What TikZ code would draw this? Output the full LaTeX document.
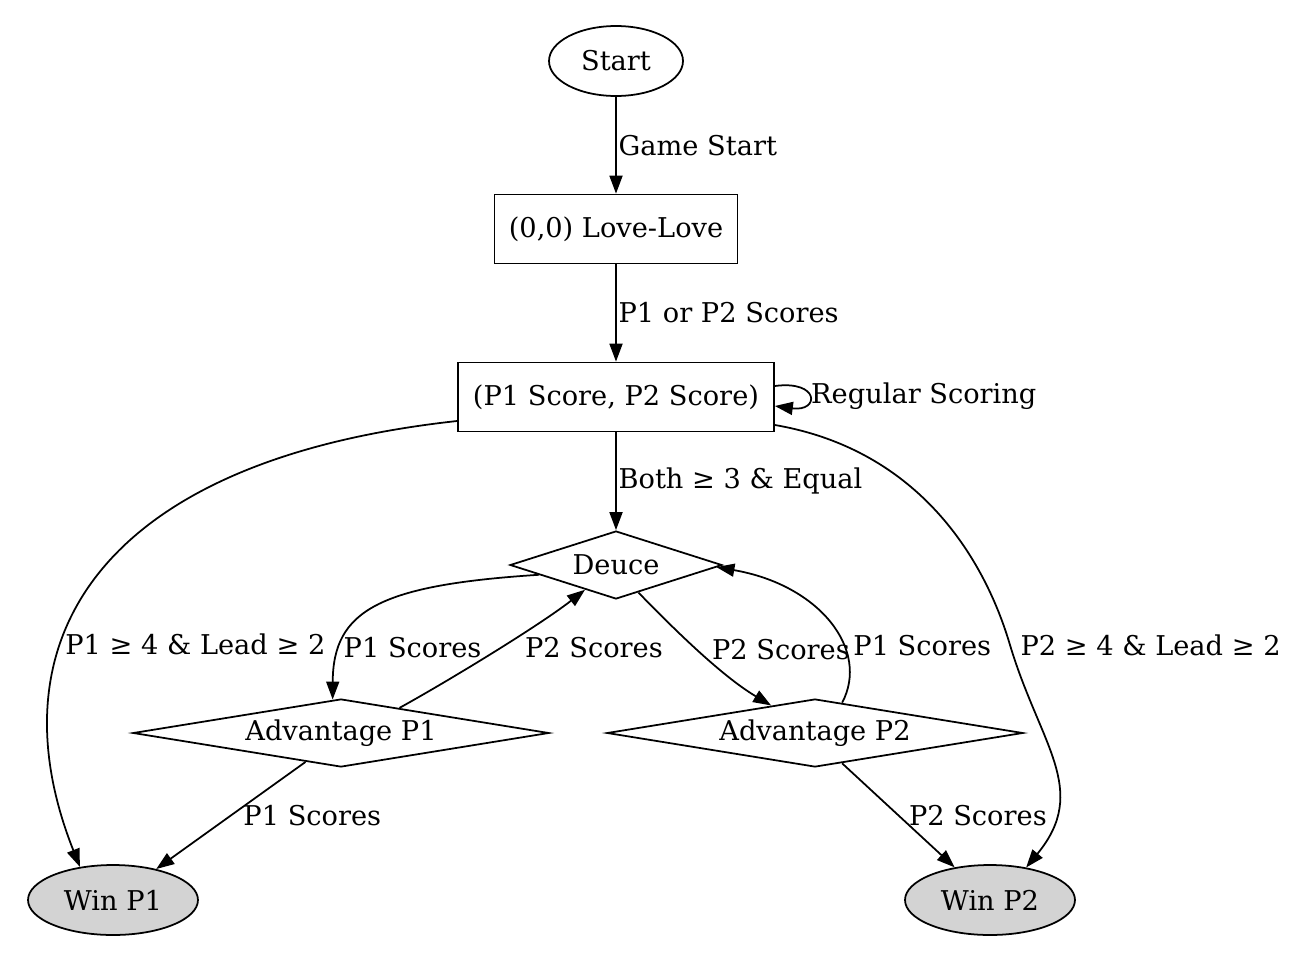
\documentclass[tikz,border=0pt]{standalone}
\usepackage{fontspec}
\setmainfont{DejaVu Serif}
\usetikzlibrary{shapes.geometric,arrows.meta,calc}
\definecolor{wingray}{RGB}{211,211,211}
\newcommand{\gfont}{\fontsize{15.5}{18}\selectfont}

\begin{document}
\begin{tikzpicture}[x=0.02cm,y=-0.02cm,
  every node/.style={font=\gfont},
  box/.style={draw, rectangle, line width=1pt, minimum height=1.38cm},
  oval/.style={draw, ellipse, line width=1pt, minimum width=2.68cm, minimum height=1.4cm},
  win/.style={oval, fill=wingray, minimum width=3.4cm},
  choice/.style={draw, diamond, line width=1pt, inner sep=0pt, aspect=6, minimum height=1.36cm},
  edge/.style={line width=1pt, -{Triangle[length=0.36cm,width=0.26cm]}},
  lbl/.style={inner sep=1pt}]
\useasboundingbox (0,0) rectangle (1309,964);

%STATES
\node[oval] (start) at (616,61) {Start};
\node[box, minimum width=4.86cm] (love) at (616,229) {(0,0) Love-Love};
\node[box, minimum width=6.32cm] (score) at (616,397) {(P1 Score, P2 Score)};
\node[choice, aspect=3, minimum width=4.24cm] (deuce) at (616,565) {Deuce};
\node[choice, minimum width=8.32cm] (advA) at (341,733) {Advantage P1};
\node[choice, minimum width=8.32cm] (advB) at (815,733) {Advantage P2};
\node[win] (winA) at (113,900) {Win P1};
\node[win] (winB) at (990,900) {Win P2};

%MAIN LINE
\draw[edge] (start) -- node[right,lbl]{Game Start} (love);
\draw[edge] (love) -- node[right,lbl]{P1 or P2 Scores} (score);
\draw[edge] (score) -- node[right,lbl]{Both ≥ 3 \& Equal} (deuce);
\draw[edge] ([yshift=0.22cm]score.east) .. controls +(45,-6) and +(45,6) .. ([yshift=-0.18cm]score.east)
  node[pos=0.5, right, lbl]{Regular Scoring};

%DIRECT WINS
\draw[edge] ([yshift=-0.48cm]score.west) .. controls (100,460) and (-10,640) .. (winA.135)
  node[pos=0.64, anchor=west, lbl]{P1 ≥ 4 \& Lead ≥ 2};
\draw[edge] ([yshift=-0.56cm]score.east) .. controls (920,450) and (985,560) .. (1010,645)
  node[anchor=west, lbl, xshift=0.16cm]{P2 ≥ 4 \& Lead ≥ 2}
  .. controls (1040,745) and (1090,790) .. (winB.42);

%DEUCE AND ADVANTAGE
\draw[edge] ($(deuce.south)!0.72!(deuce.west)$) .. controls (380,585) and (333,610) .. ($(advA.north)!0.04!(advA.west)$)
  node[pos=0.77, anchor=west, lbl]{P1 Scores};
\draw[edge] ($(advA.north)!0.28!(advA.east)$) .. controls (450,680) and (540,625) .. ($(deuce.south)!0.29!(deuce.west)$)
  node[pos=0.53, anchor=west, lbl, xshift=0.44cm]{P2 Scores};
\draw[edge] ($(deuce.south)!0.21!(deuce.east)$) .. controls (670,625) and (720,675) .. ($(advB.north)!0.21!(advB.west)$)
  node[pos=0.5, anchor=west, lbl, xshift=0.24cm]{P2 Scores};
\draw[edge] ($(advB.north)!0.13!(advB.east)$) .. controls (870,650) and (820,585) .. ($(deuce.east)!0.06!(deuce.south)$)
  node[pos=0.35, anchor=west, lbl, xshift=0.14cm]{P1 Scores};

%WINNING POINTS
\draw[edge] ($(advA.south)!0.17!(advA.west)$) -- node[pos=0.5, right, lbl, xshift=0.2cm]{P1 Scores} (winA);
\draw[edge] ($(advB.south)!0.13!(advB.east)$) -- node[pos=0.5, right, lbl, xshift=0.16cm]{P2 Scores} (winB);
\end{tikzpicture}
\end{document}
